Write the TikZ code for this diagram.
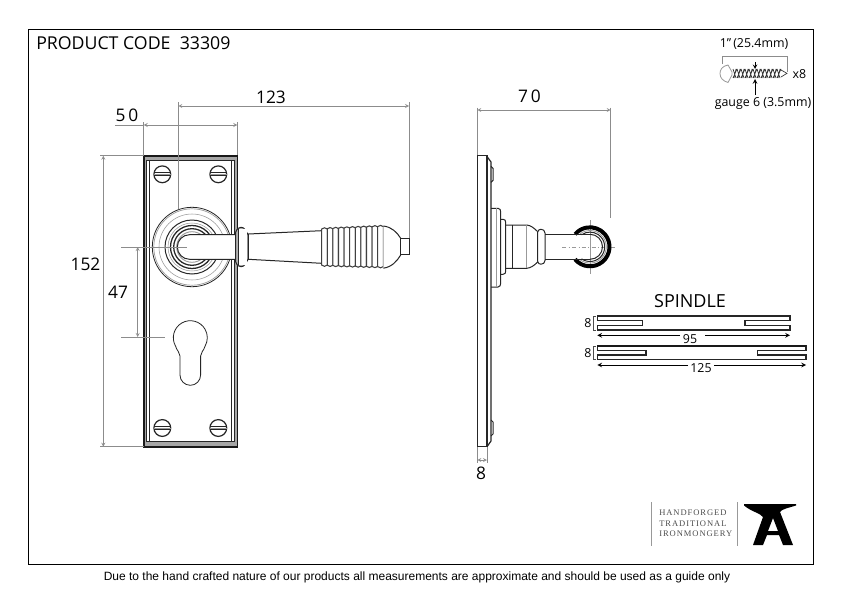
\documentclass[tikz,border=0pt]{standalone}
\usepackage{fontspec}
\setmainfont{Open Sans}
\newfontfamily\footfont{Liberation Sans}
\newfontfamily\logofont[LetterSpace=11]{Liberation Serif}

\begin{document}
\begin{tikzpicture}
[
 x=0.75pt,y=-0.75pt,
 >=stealth,
 dim/.style = {draw=black!45, line width=0.35pt},
 part/.style = {draw=black!85, line width=0.75pt},
 heavy/.style = {draw=black!90, line width=1.2pt},
 faint/.style = {draw=black!40, line width=0.4pt},
 rib/.style = {draw=black!75, line width=0.8pt, fill=white},
 rod/.style = {draw=black!85, line width=1.05pt},
 lead/.style = {draw=black, line width=0.6pt},
 size/.style = {font=\fontsize{13}{15}\selectfont, inner sep=0pt},
 small/.style = {font=\fontsize{9.3}{11}\selectfont, inner sep=0pt},
 logo/.style = {font=\logofont\fontsize{6.4}{7}\selectfont, text=black!70, inner sep=0pt, anchor=west},
]

\useasboundingbox (0,0) rectangle (842,596);
\fill[white] (0,0) rectangle (842,596);
\draw[line width=0.6pt] (28,29) rectangle (813,564);

\node (code) at (36,43) [anchor=west, inner sep=0pt, font=\fontsize{13.3}{15}\selectfont] {PRODUCT CODE\ \ 33309};
\node (note) at (417,577) [inner sep=0pt, font=\footfont\fontsize{9}{11}\selectfont] {Due to the hand crafted nature of our products all measurements are approximate and should be used as a guide only};

% front plate
\draw[heavy, fill=black!35] (144,155.7) rectangle (237.5,446.7);
\draw[part, fill=white] (146.8,160.7) rectangle (234.6,441.7);
\draw[part] (149.4,160.7) rectangle (231.8,441.7);
\foreach \i/\j in {162.3/174.3, 218.3/174.3, 162.3/428, 218.3/428}
{
 \draw[part, line width=0.9pt] (\i,\j) circle (8.4);
 \draw[faint] (\i-8.4,\j) -- (\i+8.4,\j);
 \draw[part] (\i-8.4,\j-1.5) -- (\i+8.4,\j-1.5);
 \draw[part] (\i-8.4,\j+1.5) -- (\i+8.4,\j+1.5);
}

% keyhole
\draw[part, line width=0.6pt] (180,375) -- (180,356) .. controls (180,352) and (176.8,351) .. (175.6,346.2)
 arc[start angle=150, end angle=390, radius=17]
 .. controls (203.8,351) and (200.6,352) .. (200.6,356) -- (200.6,375)
 arc[start angle=0, end angle=180, radius=10.3] -- cycle;

% rose
\coordinate (rose) at (192,247);
\draw[part, line width=0.6pt, fill=white] (rose) circle (39.7);
\draw[faint, line width=0.5pt] (rose) circle (38.2);
\draw[faint] (rose) circle (33);
\draw[part] (rose) circle (27);
\draw[faint] (rose) circle (24);
\draw[part, line width=0.95pt] (rose) circle (21.5);
\draw[part, line width=0.95pt] (rose) circle (18.3);
\draw[faint, line width=0.7pt] (rose) circle (15.3);

% lever, front
\draw[part, fill=white] (235.7,234.7) -- (189.6,234.7) arc[start angle=270, end angle=90, radius=12.3] -- (235.7,259.3);
\draw[part, fill=black!30] (235.7,232) .. controls (237,228.5) and (239,227.3) .. (241,227.3)
 .. controls (245,227.3) and (245.5,231) .. (248.3,235) -- (248.3,259)
 .. controls (245.5,263) and (245,266.7) .. (241,266.7)
 .. controls (239,266.7) and (237,265.5) .. (235.7,262) -- cycle;
\fill[white] (238.2,229) rectangle (246.8,265);
\draw[part] (238.2,228.6) -- (238.2,265.4);
\draw[part, fill=white] (248.3,234) -- (321.7,230.7) -- (321.7,263.3) -- (248.3,259.3) -- cycle;
\foreach \i in {0,...,10}
{
 \pgfmathsetmacro{\a}{321.7+5.6*\i}
 \pgfmathsetmacro{\b}{\a+5.6}
 \pgfmathsetmacro{\t}{227.4-0.24*\i}
 \pgfmathsetmacro{\u}{266.7+0.15*\i}
 \draw[rib] (\a,\t+1.6) .. controls (\a+1,\t) and (\b-1,\t) .. (\b,\t+1.6) -- (\b,\u-1.6)
  .. controls (\b-1,\u) and (\a+1,\u) .. (\a,\u-1.6) -- cycle;
}
\draw[part, fill=white] (383.3,226) .. controls (392,227) and (397,232.5) .. (400.7,238.3) -- (400.7,255)
 .. controls (397,261) and (392,267) .. (383.3,268.2);
\draw[part, fill=white] (400.7,238.3) rectangle (409,254.8);

% side view
\draw[part, line width=0.9pt] (477.3,155.7) rectangle (487,446.7);
\draw[part, line width=0.9pt] (487,156.5) -- (491,162) -- (491,441) -- (487,446.7);
\foreach \j in {174.3,428}
 \draw[part] (491,\j-8) -- (493,\j-6) -- (493,\j+6) -- (491,\j+8);
\draw[part] (491,208.3) -- (498,208.3) .. controls (500,208.3) and (500.7,210) .. (500.7,212) -- (500.7,283)
 .. controls (500.7,285) and (500,287) .. (498,287) -- (491,287);
\draw[faint] (496,208.3) -- (496,287);
\draw[part] (500.7,219.3) -- (503,219.3) .. controls (505,219.3) and (505.7,220.5) .. (505.7,222.5) -- (505.7,271)
 .. controls (505.7,273) and (505,274.3) .. (503,274.3) -- (500.7,274.3);
\draw[part] (505.7,225) -- (526.7,225) .. controls (531,225.5) and (534,228) .. (537.7,231.7);
\draw[part] (505.7,268.3) -- (526.7,268.3) .. controls (531,268) and (534,265.5) .. (537.7,262);
\draw[part] (512.7,225) -- (512.7,268.3);
\draw[faint] (526.7,225) -- (526.7,268.3);
\draw[part, fill=white] (537.7,232) .. controls (538,230) and (539.5,229.3) .. (541,229.3)
 .. controls (543,229.3) and (545,230.5) .. (545,233) -- (545,260.5)
 .. controls (545,263) and (543,264.2) .. (541,264.2)
 .. controls (539.5,264.2) and (538,263.5) .. (537.7,261.5) -- cycle;
\coordinate (eye) at (590,246.8);
\draw[faint] (590,220) -- (590,274);
\draw[faint, dash dot] (562,246.8) -- (617,246.8);
\draw[black, line width=3pt] (eye) ++(140:19.5) arc[start angle=140, end angle=-140, radius=19.5];
\draw[faint, line width=0.6pt] (eye) ++(130:16.3) arc[start angle=130, end angle=-130, radius=16.3];
\draw[part] (eye) ++(125:14.7) arc[start angle=125, end angle=-125, radius=14.7];
\draw[part] (545,234.3) -- (590,234.3);
\draw[part] (545,259.3) -- (590,259.3);
\draw[part] (590,259.3) arc[start angle=90, end angle=-90, radius=12.5];

% sizes, front
\draw[dim] (178.3,102) -- (178.3,209);
\draw[dim] (409,102) -- (409,238);
\draw[dim, <->] (178.3,106) -- (409,106);
\node (w123) at (271,97.5) [size] {123};
\draw[dim] (143.7,122) -- (143.7,155);
\draw[dim] (237.3,122) -- (237.3,155);
\draw[dim] (115,125) -- (143.7,125);
\draw[dim, <->] (143.7,125) -- (237.3,125);
\node (w50) at (127,115) [size] {5\,0};
\draw[dim] (100,155.7) -- (144,155.7);
\draw[dim] (100,446.7) -- (144,446.7);
\draw[dim, <->] (103.3,155.7) -- (103.3,446.7);
\node (h152) at (85.5,264) [size] {152};
\draw[dim] (121,247) -- (187,247);
\draw[dim] (121,337) -- (165,337);
\draw[dim, <->] (137.7,247) -- (137.7,337);
\node (h47) at (118,292.5) [size] {47};

% sizes, side
\draw[dim] (477.3,107.5) -- (477.3,155);
\draw[dim] (610.7,107.5) -- (610.7,218);
\draw[dim, <->] (477.3,110) -- (610.7,110);
\node (w70) at (529.5,96.7) [size] {7\,0};
\draw[dim] (477.3,447) -- (477.3,463);
\draw[dim] (487,447) -- (487,463);
\draw[dim, <->] (477.3,460) -- (487,460);
\node (t8) at (481,473) [size] {8};

% screw
\node (len) at (754,44) [small] {1”\,(25.4mm)};
\draw[dim, line width=0.5pt] (722.7,56) -- (787.3,56);
\draw[dim, line width=0.5pt] (722.7,56) -- (722.7,64);
\draw[dim, line width=0.5pt] (787.3,56) -- (787.3,72);
\draw[faint, line width=0.6pt] (728,65) .. controls (722,66) and (720,70) .. (720,73.5) .. controls (720,78) and (723,81) .. (728,82.5) -- (732,75) -- (732,72) -- cycle;
\foreach \i in {0,...,11}
{
 \pgfmathsetmacro{\a}{733+4*\i}
 \draw[black!80, line width=0.5pt] (\a,69) -- (\a+3,78) (\a+3,69) -- (\a+1,78) (\a,78) -- (\a+4,69);
}
\draw[black!80, line width=0.5pt] (781,70) -- (787,73.3) -- (781,77);
\draw[black, line width=0.5pt, ->] (755,62) -- (755,69);
\draw[black, line width=0.6pt, ->] (755,95) -- (755,79);
\node (times) at (799.5,74.5) [small] {x8};
\node (gauge) at (763,103) [small] {gauge 6 (3.5mm)};

% spindle
\node (spin) at (690,301) [inner sep=0pt, font=\fontsize{13.5}{15}\selectfont] {SPINDLE};
\draw[rod] (597.3,316) -- (790,316) -- (790,320.7) -- (745,320.7) -- (745,325.4) -- (790,325.4) -- (790,330)
 -- (597.3,330) -- (597.3,325.4) -- (642.3,325.4) -- (642.3,320.7) -- (597.3,320.7) -- cycle;
\draw[rod] (597.3,346) -- (806,346) -- (806,350.7) -- (757.3,350.7) -- (757.3,355) -- (806,355) -- (806,359.4)
 -- (597.3,359.4) -- (597.3,355) -- (646,355) -- (646,350.7) -- (597.3,350.7) -- cycle;
\draw[heavy] (597.3,346) -- (806,346);
\draw[black!70, line width=0.5pt] (596,316) -- (593.5,316) -- (593.5,330) -- (596,330);
\draw[black!70, line width=0.5pt] (596,346) -- (593.5,346) -- (593.5,359.4) -- (596,359.4);
\node (s8a) at (588,323) [small] {8};
\node (s8b) at (588,353) [small] {8};
\draw[lead, ->] (680,335.3) -- (597.3,335.3);
\draw[lead, ->] (705,335.3) -- (790,335.3);
\node (s95) at (690,339) [small] {95};
\draw[lead, ->] (688,365) -- (597.3,365);
\draw[lead, ->] (714,365) -- (806,365);
\node (s125) at (701,368.5) [small] {125};

% logo
\draw[faint] (651.7,502) -- (651.7,546);
\draw[faint] (737,502) -- (737,546);
\node (l1) at (659,513) [logo] {HANDFORGED};
\node (l2) at (659,524) [logo] {TRADITIONAL};
\node (l3) at (659,534) [logo] {IRONMONGERY};
\fill[black, even odd rule] (744,504) -- (796,504) -- (796,505.5) .. controls (788,508) and (782,509) .. (780,512)
 -- (793,545) -- (783,545) -- (779,535) -- (767,535) -- (763,545) -- (753,545) -- (763,517)
 .. controls (760,513) and (752,512) .. (744,505.5) -- cycle
 (773,518) -- (768,531) -- (778,531) -- cycle;

\end{tikzpicture}
\end{document}
